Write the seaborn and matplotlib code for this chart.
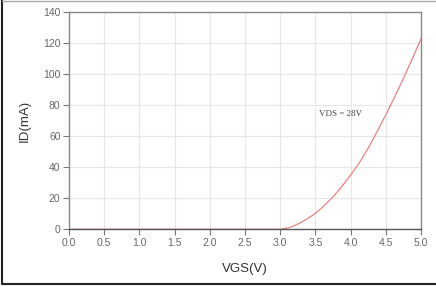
import matplotlib
matplotlib.use("Agg")
import matplotlib.pyplot as plt
import seaborn as sns
import pandas as pd
from matplotlib.lines import Line2D
from matplotlib.ticker import MultipleLocator

# VGS (V) vs ID (mA) at VDS = 28V
vgs = [0.0, 0.5, 1.0, 1.5, 2.0, 2.5, 3.0, 3.125, 3.25, 3.375, 3.5, 3.625, 3.75, 3.875,
       4.0, 4.125, 4.25, 4.375, 4.5, 4.625, 4.75, 4.875, 5.0]
id_ma = [0.0, 0.0, 0.0, 0.0, 0.0, 0.0, 0.0, 1.0, 3.4, 6.5, 10.3, 15.3, 21.0, 27.7,
         35.0, 43.0, 52.5, 63.0, 74.0, 85.5, 97.5, 110.0, 123.0]
x_ticks = [0.0, 0.5, 1.0, 1.5, 2.0, 2.5, 3.0, 3.5, 4.0, 4.5, 5.0]
y_ticks = [0, 20, 40, 60, 80, 100, 120, 140]

df = pd.DataFrame({"VGS": vgs, "ID": id_ma})

sns.set_style("white")
plt.rcParams['font.family'] = ['Liberation Sans', 'DejaVu Sans']

fig = plt.figure(figsize=(4.36, 2.87), dpi=100)
ax = fig.add_axes([0.158, 0.201, 0.808, 0.757])

sns.lineplot(data=df, x="VGS", y="ID", ax=ax, color="#f08080", linewidth=0.9)

ax.set_xlim(0, 5)
ax.set_ylim(0, 140)
ax.set_xticks(x_ticks)
ax.set_xticklabels([f"{v:.1f}" for v in x_ticks])
ax.set_yticks(y_ticks)
ax.yaxis.set_minor_locator(MultipleLocator(10))
ax.grid(True, which="major", color="#e6e6e6", linewidth=0.8)
ax.tick_params(axis="both", which="major", direction="out", length=4, width=0.8,
               color="#777777", labelsize=7.5, labelcolor="#666666", pad=2)
ax.tick_params(axis="y", which="minor", direction="out", length=3, width=0.8, color="#777777")
ax.tick_params(bottom=True, left=True)

for side in ["left", "top", "right"]:
    ax.spines[side].set_color("#888888")
    ax.spines[side].set_linewidth(1.0)
ax.spines["bottom"].set_color("#555555")
ax.spines["bottom"].set_linewidth(1.0)

ax.set_xlabel("VGS(V)", fontsize=9.5, color="#333333", labelpad=11)
ax.set_ylabel("ID(mA)", fontsize=9.5, color="#333333", labelpad=9)

ax.text(3.86, 74, "VDS = 28V", fontsize=6.5, color="#444444", ha="center", va="center",
        family=["Liberation Serif", "DejaVu Serif"])

# outer frame of the picture
fig.add_artist(Line2D([0.005, 0.005], [0.012, 1.0], transform=fig.transFigure,
                      color="#222222", linewidth=1.5))
fig.add_artist(Line2D([0.005, 1.0], [0.012, 0.012], transform=fig.transFigure,
                      color="#222222", linewidth=1.5))
fig.add_artist(Line2D([0.005, 1.0], [0.998, 0.998], transform=fig.transFigure,
                      color="#aaaaaa", linewidth=1.0))

fig.savefig("out.png", dpi=100)
